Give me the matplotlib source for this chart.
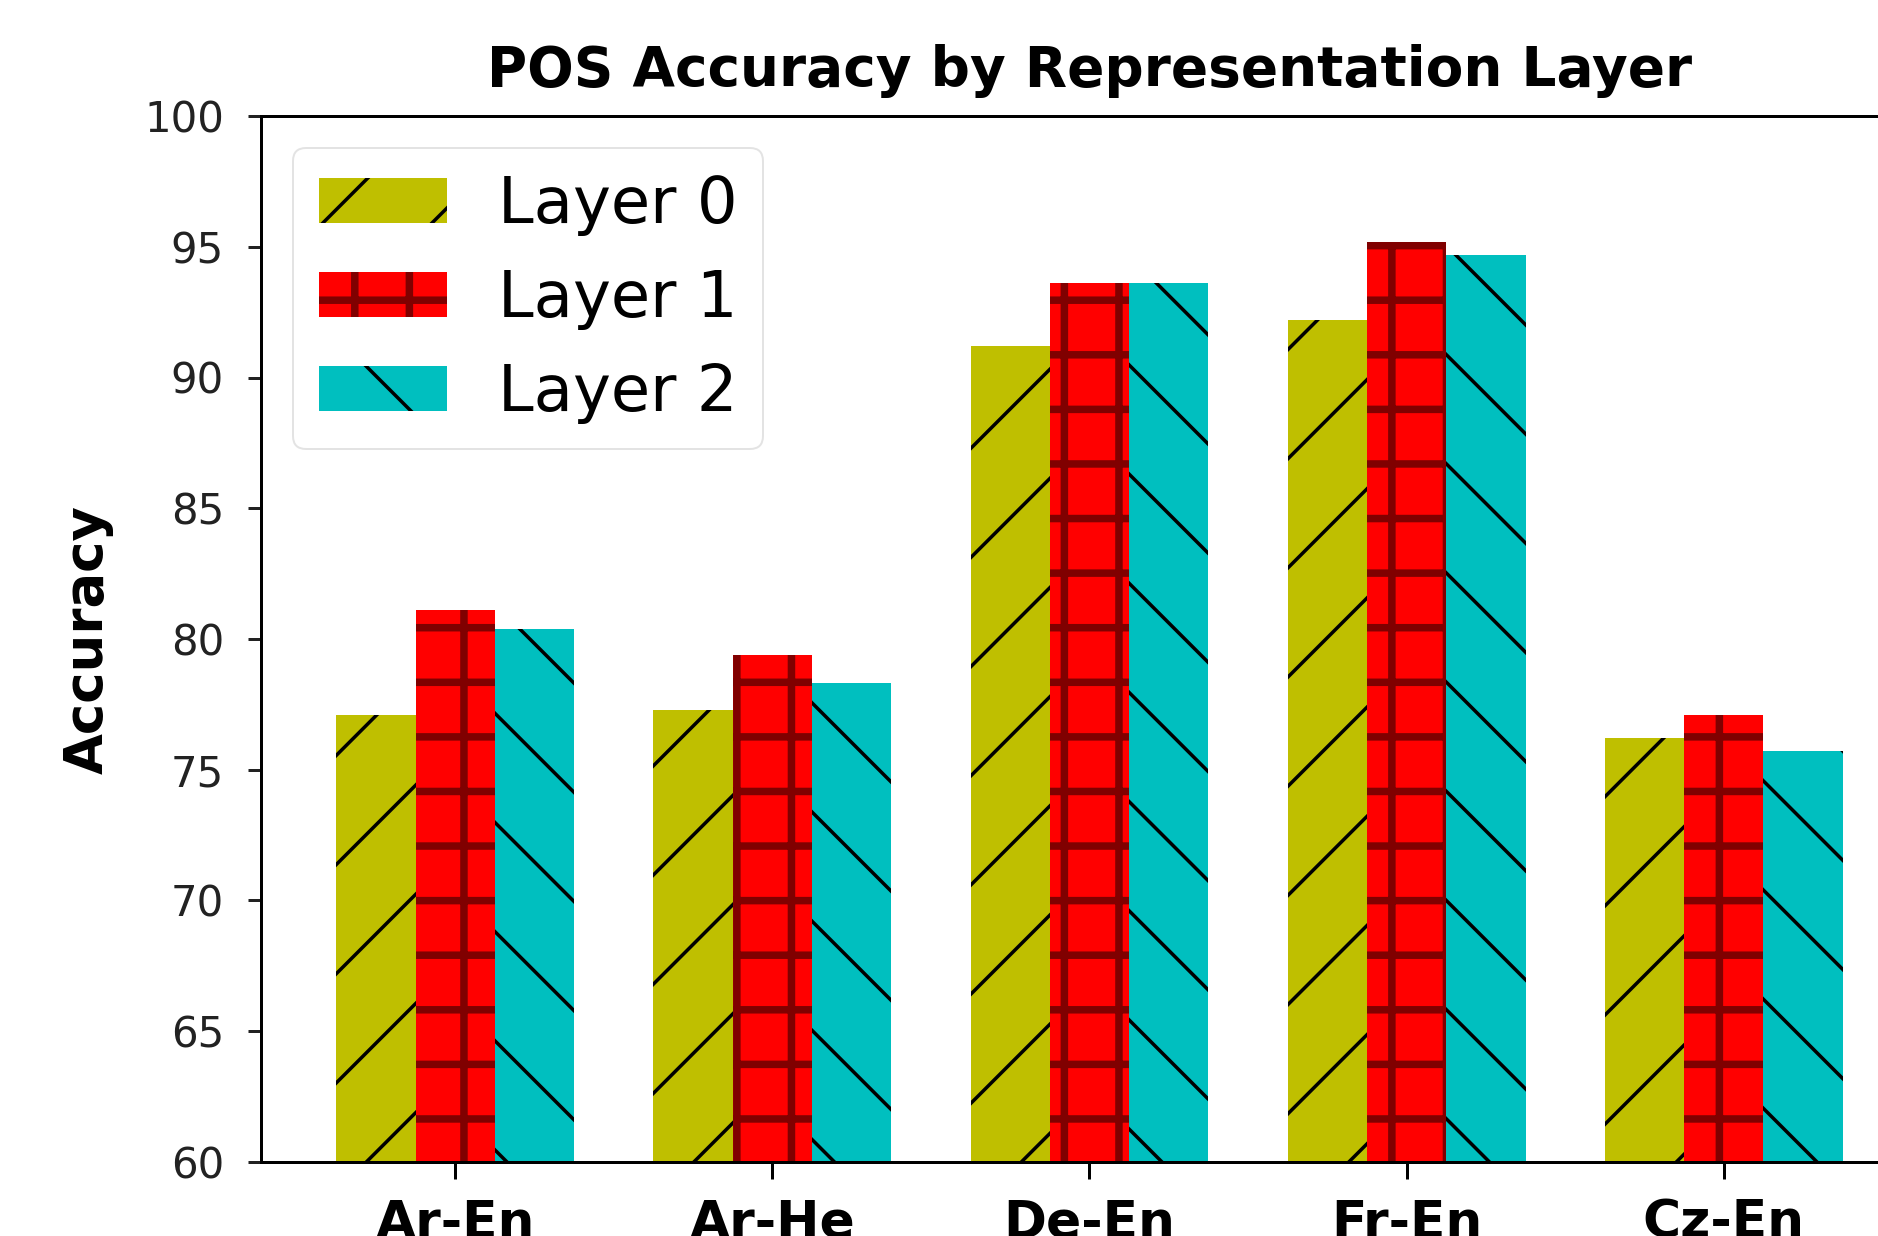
import numpy as np
import matplotlib
matplotlib.use('Agg')
import matplotlib.pyplot as plt

DPI = 655          # hatch cell = one inch, so this sets the hatch spacing
W, H = 1879, 1236


def px(n):
    # pixels -> points at the figure dpi
    return n * 72.0 / DPI


pairs = ['Ar-En', 'Ar-He', 'De-En', 'Fr-En', 'Cz-En']
layer0 = [77.1, 77.3, 91.2, 92.2, 76.2]
layer1 = [81.1, 79.4, 93.6, 95.2, 77.1]
layer2 = [80.4, 78.3, 93.6, 94.7, 75.7]
labels = ['Layer 0', 'Layer 1', 'Layer 2']
yticks = [60, 65, 70, 75, 80, 85, 90, 95, 100]

BAR_W = 0.25
plt.rcParams['font.family'] = 'DejaVu Sans'
plt.rcParams['hatch.linewidth'] = px(3.5)

fig = plt.figure(figsize=(W / DPI, H / DPI), dpi=DPI)
ax = fig.add_axes([261 / W, (H - 1162) / H, 1657 / W, 1046 / H])

x = np.arange(len(pairs))
b0 = ax.bar(x - BAR_W, layer0, BAR_W, color='y', edgecolor='black', linewidth=0,
            hatch='//', label=labels[0])
b1 = ax.bar(x, layer1, BAR_W, color='r', edgecolor='#800000', linewidth=0,
            hatch='++', label=labels[1])
b2 = ax.bar(x + BAR_W, layer2, BAR_W, color='c', edgecolor='black', linewidth=0,
            hatch='\\\\', label=labels[2])

# thicker, darker grid on the red bars
for p in b1:
    if hasattr(p, 'set_hatch_linewidth'):
        p.set_hatch_linewidth(px(7.5))

ax.set_ylim(60, 100)
ax.set_yticks(yticks)
ax.set_xticks(x)
ax.set_xticklabels(pairs, fontsize=px(52), fontweight='bold')
ax.tick_params(axis='y', labelsize=px(42), length=px(13), width=px(3), pad=px(24),
               colors='#222222', labelcolor='#222222')
ax.tick_params(axis='x', length=px(17), width=px(3), pad=px(20))

for s in ax.spines.values():
    s.set_linewidth(px(3))

ax.set_ylabel('Accuracy', fontsize=px(53), fontweight='bold', labelpad=px(30))
ax.set_title('POS Accuracy by Representation Layer', fontsize=px(55),
             fontweight='bold', pad=px(30))

leg = ax.legend(loc='upper left', fontsize=px(64))
leg.get_frame().set_linewidth(px(2))
leg.get_frame().set_edgecolor('#dddddd')
for h in leg.legend_handles[1:2]:
    if hasattr(h, 'set_hatch_linewidth'):
        h.set_hatch_linewidth(px(7.5))

fig.savefig('out.png', dpi=DPI)
